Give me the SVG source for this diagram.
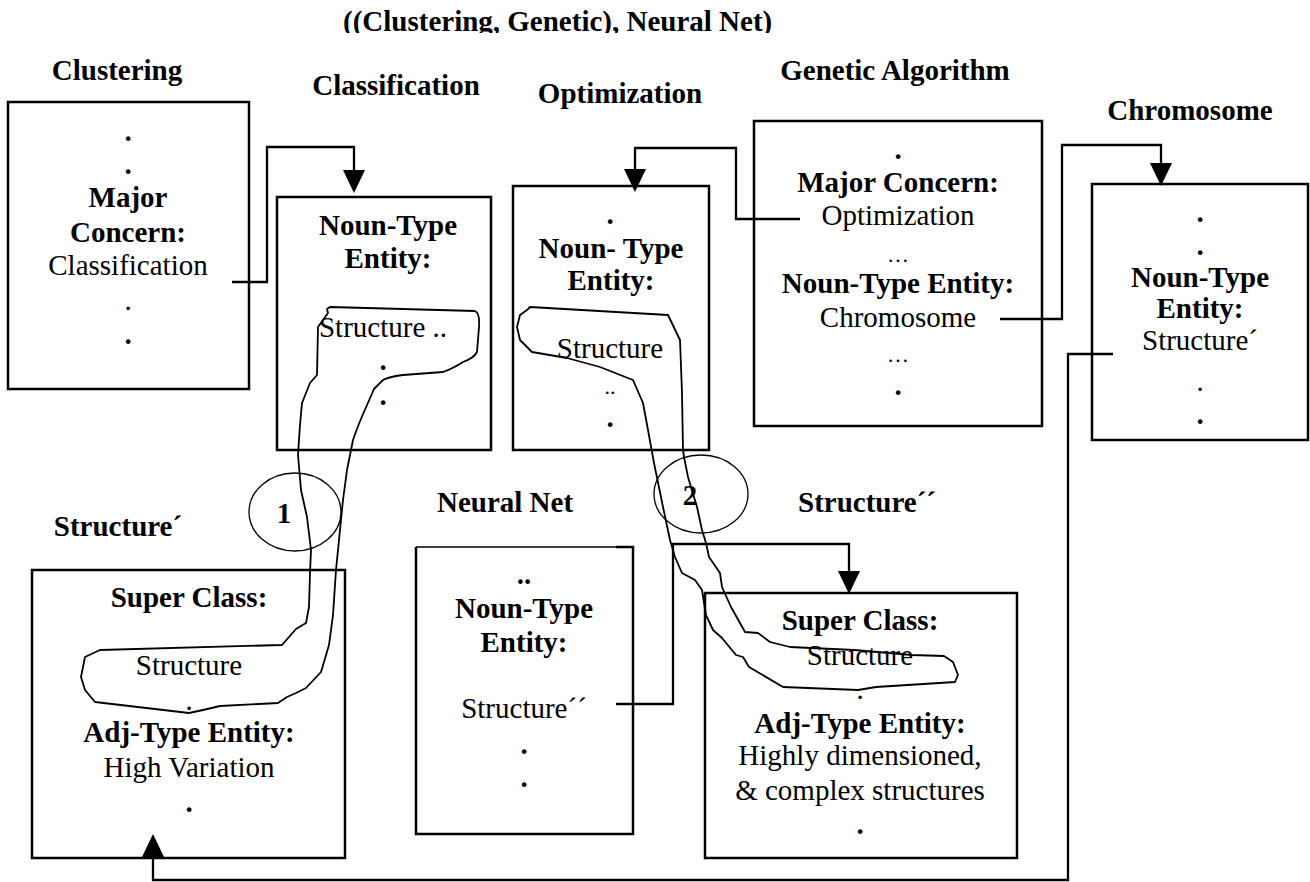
<svg xmlns="http://www.w3.org/2000/svg" width="1310" height="882" viewBox="0 0 1310 882">
  <style>
    text { font-family: "Liberation Serif", "Times New Roman", serif; font-size: 29px; fill: #000; text-anchor: middle; }
    .b { font-weight: bold; }
    .sm { font-size: 22px; }
    .box { fill: #fff; stroke: #000; stroke-width: 2.5; }
    .edge { fill: none; stroke: #000; stroke-width: 2.5; }
    .conn { fill: none; stroke: #000; stroke-width: 2.3; stroke-linejoin: miter; }
    .hand { fill: none; stroke: #000; stroke-width: 1.8; stroke-linejoin: round; stroke-linecap: round; }
    .ring { fill: none; stroke: #000; stroke-width: 1.3; }
  </style>
  <defs>
    <marker id="arrow" viewBox="0 0 23 22" refX="0" refY="11" markerWidth="23" markerHeight="22" markerUnits="userSpaceOnUse" orient="auto">
      <path d="M0,0 L23,11 L0,22 Z" fill="#000"/>
    </marker>
    <clipPath id="title-clip">
      <rect x="0" y="0" width="1310" height="33"/>
    </clipPath>
  </defs>

  <rect width="1310" height="882" fill="#fff"/>

  <!-- heading -->
  <text class="b" x="343" y="31" style="text-anchor:start" clip-path="url(#title-clip)">((Clustering, Genetic), Neural Net)</text>

  <!-- Clustering -->
  <g id="clustering">
    <text class="b" x="117" y="80">Clustering</text>
    <rect class="box" x="8" y="102" width="241" height="287"/>
    <text class="b" x="128" y="141">.</text>
    <text class="b" x="128" y="174">.</text>
    <text class="b" x="128" y="207">Major</text>
    <text class="b" x="128" y="242">Concern:</text>
    <text x="128" y="275">Classification</text>
    <text x="128" y="310">.</text>
    <text class="b" x="128" y="344">.</text>
  </g>

  <!-- Classification -->
  <g id="classification">
    <text class="b" x="396" y="95">Classification</text>
    <rect class="box" x="277" y="197" width="214" height="253"/>
    <text class="b" x="388" y="235">Noun-Type</text>
    <text class="b" x="388" y="268">Entity:</text>
    <text x="383" y="337">Structure ..</text>
    <text class="b" x="383" y="370">.</text>
    <text class="b" x="383" y="405">.</text>
  </g>

  <!-- Optimization -->
  <g id="optimization">
    <text class="b" x="620" y="103">Optimization</text>
    <rect class="box" x="513" y="186" width="196" height="264"/>
    <text class="b" x="610" y="224">.</text>
    <text class="b" x="611" y="258">Noun- Type</text>
    <text class="b" x="611" y="290">Entity:</text>
    <text x="610" y="358">Structure</text>
    <text class="sm" x="610" y="394">..</text>
    <text class="b" x="610" y="427">.</text>
  </g>

  <!-- Genetic Algorithm -->
  <g id="genetic-algorithm">
    <text class="b" x="895" y="80">Genetic Algorithm</text>
    <rect class="box" x="754" y="121" width="288" height="305"/>
    <text class="b" x="898" y="159">.</text>
    <text class="b" x="898" y="192">Major Concern:</text>
    <text x="898" y="225">Optimization</text>
    <text class="sm" x="898" y="262">…</text>
    <text class="b" x="898" y="293">Noun-Type Entity:</text>
    <text x="898" y="327">Chromosome</text>
    <text class="sm" x="898" y="362">…</text>
    <text class="b" x="898" y="395">.</text>
  </g>

  <!-- Chromosome -->
  <g id="chromosome">
    <text class="b" x="1190" y="120">Chromosome</text>
    <rect class="box" x="1092" y="184" width="216" height="256"/>
    <text class="b" x="1200" y="222">.</text>
    <text class="b" x="1200" y="255">.</text>
    <text class="b" x="1200" y="287">Noun-Type</text>
    <text class="b" x="1200" y="318">Entity:</text>
    <text x="1200" y="350">Structure´</text>
    <text x="1200" y="391">.</text>
    <text class="b" x="1200" y="424">.</text>
  </g>

  <!-- Structure´ -->
  <g id="structure-prime">
    <text class="b" x="118" y="536">Structure´</text>
    <rect class="box" x="32" y="570" width="313" height="288"/>
    <text class="b" x="189" y="607">Super Class:</text>
    <text x="189" y="675">Structure</text>
    <text x="189" y="710">.</text>
    <text class="b" x="189" y="742">Adj-Type Entity:</text>
    <text x="189" y="777">High Variation</text>
    <text class="b" x="189" y="812">.</text>
  </g>

  <!-- Neural Net -->
  <g id="neural-net">
    <text class="b" x="505" y="512">Neural Net</text>
    <rect x="416" y="547" width="217" height="287" fill="#fff"/>
    <line x1="416" y1="547" x2="616" y2="547" stroke="#000" stroke-width="1.5"/>
    <path class="edge" d="M616,547 H633 V834 H416 V547"/>
    <text class="b" x="524" y="584">..</text>
    <text class="b" x="524" y="618">Noun-Type</text>
    <text class="b" x="524" y="652">Entity:</text>
    <text x="524" y="718">Structure´´</text>
    <text class="b" x="524" y="754">.</text>
    <text class="b" x="524" y="787">.</text>
  </g>

  <!-- Structure´´ -->
  <g id="structure-double-prime">
    <text class="b" x="867" y="512">Structure´´</text>
    <rect class="box" x="705" y="593" width="312" height="265"/>
    <text class="b" x="860" y="630">Super Class:</text>
    <text x="860" y="665">Structure</text>
    <text x="860" y="699">.</text>
    <text class="b" x="860" y="733">Adj-Type Entity:</text>
    <text x="860" y="765">Highly dimensioned,</text>
    <text x="860" y="800">&amp; complex structures</text>
    <text class="b" x="860" y="834">.</text>
  </g>

  <!-- connectors -->
  <g id="connectors">
    <path class="conn" d="M232,282 H267 V147 H354 V170" marker-end="url(#arrow)"/>
    <path class="conn" d="M800,219 H736 V148 H635 V169" marker-end="url(#arrow)"/>
    <path class="conn" d="M1000,319 H1062 V145 H1161 V163" marker-end="url(#arrow)"/>
    <path class="conn" d="M1113,354 H1068 V880 H153 V857" marker-end="url(#arrow)"/>
    <path class="conn" d="M616,704 H673 V544 H849 V571" marker-end="url(#arrow)"/>
  </g>

  <!-- hand-drawn mapping loops with numbered rings -->
  <g id="mapping-1">
    <path class="hand" d="M330,307 L475,311 Q480,313 479,327 L477,352 Q474,358 463,362 Q452,369 443,372 L403,375 Q388,377 383,380 L374,389 L367,405 Q358,425 353,440 L347,470 L343,500 L340,530 L336,570 L333,615 L329,645 L321,672 L306,688 L296,693 L287,697 L278,703 L220,706 L203,710 L189,713 L95,702 L85,690 L81,677 L85,657 L100,650 L282,645 L296,629 L306,623 L309,607 L310,573 L311,550 L307,517 L301,490 L298,455 L300,425 L302,403 L310,383 L317,375 L318,327 L328,313 L327,309 Z"/>
    <ellipse class="ring" cx="295" cy="512" rx="46" ry="39"/>
    <text class="b" x="284" y="523">1</text>
  </g>

  <g id="mapping-2">
    <path class="hand" d="M530,307 L668,315 L680,340 L682,393 L683,450 L684,457 L688,477 L697,507 L702,530 L706,543 L709,557 L720,573 L722,587 L731,607 L740,623 L745,632 L758,633 L770,642 L790,647 L854,650 L912,655 L944,656 L953,662 L958,675 L955,682 L876,687 L858,690 L783,687 L749,667 L743,657 L736,655 L722,638 L713,630 L706,615 L702,590 L695,580 L682,573 L675,557 L670,540 L663,507 L654,463 L648,430 L643,403 L633,380 L600,367 L567,358 L532,352 L520,340 L517,327 L520,315 L527,310 Z"/>
    <ellipse class="ring" cx="701" cy="494" rx="47" ry="39"/>
    <text class="b" x="690" y="505">2</text>
  </g>
</svg>
